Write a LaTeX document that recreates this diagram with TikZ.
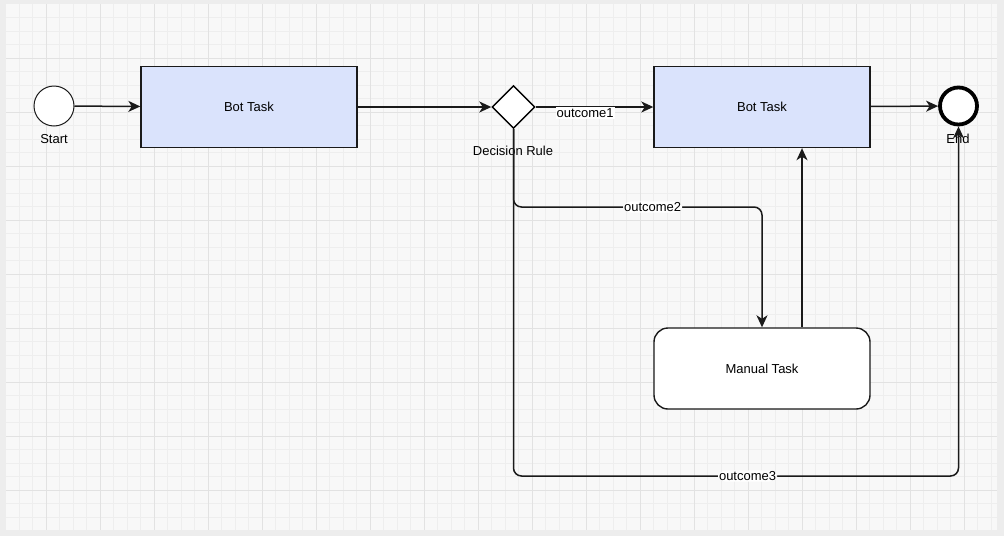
\documentclass[tikz,border=0pt]{standalone}
\usepackage{fontspec}
\setmainfont{Liberation Sans}
\usetikzlibrary{arrows.meta,shapes.geometric}
\definecolor{framegray}{HTML}{EDEDED}
\definecolor{gridbg}{HTML}{F8F8F8}
\definecolor{gridminor}{HTML}{EEEEEE}
\definecolor{gridmajor}{HTML}{E2E2E2}
\definecolor{botblue}{HTML}{DAE3FC}
\definecolor{inkgray}{HTML}{1A1A1A}
\newcommand{\taskw}{216pt}
\newcommand{\taskh}{81pt}
\newcommand{\lblfont}{\fontsize{13}{15}\selectfont}
\tikzset{
  bottask/.style={rectangle, draw=inkgray, fill=botblue, line width=1.4pt, minimum width=\taskw, minimum height=\taskh, font=\lblfont},
  manualtask/.style={rectangle, rounded corners=14pt, draw=inkgray, fill=white, line width=1.4pt, minimum width=\taskw, minimum height=\taskh, font=\lblfont},
  startev/.style={circle, draw=inkgray, fill=white, line width=1pt, minimum size=40pt, inner sep=0pt},
  endev/.style={circle, draw=black, fill=white, line width=3.8pt, minimum size=37pt, inner sep=0pt},
  gateway/.style={diamond, draw=black, fill=white, line width=1.4pt, minimum width=43pt, minimum height=43pt, inner sep=0pt},
  evlabel/.style={font=\lblfont, inner sep=1pt},
  outlbl/.style={font=\lblfont, fill=white, inner sep=1pt},
  flow/.style={draw=inkgray, line width=1.5pt, -{Stealth[length=12pt, width=11pt, inset=3.5pt]}}
}
\begin{document}
\begin{tikzpicture}[x=1pt, y=-1pt]
    % frame and grid
    \fill[framegray] (0,0) rectangle (1004,536);
    \fill[gridbg] (6,4) rectangle (997,530);
    \foreach \i in {-2,...,70} {
        \draw[gridminor, line width=0.8pt] ({46+13.5*\i},4) -- ({46+13.5*\i},530);
    }
    \foreach \j in {1,...,38} {
        \draw[gridminor, line width=0.8pt] (6,{4+13.5*\j}) -- (997,{4+13.5*\j});
    }
    \foreach \i in {0,...,17} {
        \draw[gridmajor, line width=0.9pt] ({46+54*\i},4) -- ({46+54*\i},530);
    }
    \foreach \j in {1,...,9} {
        \draw[gridmajor, line width=0.9pt] (6,{4+54*\j}) -- (997,{4+54*\j});
    }

    % events and tasks
    \node[startev] (start) at (54,106) {};
    \node[evlabel] (startlbl) at (54,139) {Start};
    \node[bottask] (bot1) at (249,107) {Bot Task};
    \node[gateway] (rule) at (513.5,107) {};
    \node[evlabel] (rulelbl) at (513,151) {Decision Rule};
    \node[bottask] (bot2) at (762,107) {Bot Task};
    \node[endev] (end) at (958.5,106) {};
    \node[evlabel] (endlbl) at (958,139) {End};
    \node[manualtask] (manual) at (762,368.5) {Manual Task};
    \coordinate (bend2) at (513.5,207);
    \coordinate (bend3) at (513.5,476);

    % connectors
    \draw[flow] (start) -- (bot1);
    \draw[flow] (bot1) -- (rule);
    \draw[flow] (rule) -- node[outlbl, pos=0.42, yshift=-6pt] {outcome1} (bot2);
    \draw[flow] (bot2) -- (end);
    \draw[flow, rounded corners=8pt] (rule.south) -- (bend2) -| node[outlbl, pos=0.28] {outcome2} (manual.north);
    \draw[flow, rounded corners=8pt] (rule.south) -- (bend3) -| node[outlbl, pos=0.263] {outcome3} (end.south);
    \draw[flow] ([xshift=40pt]manual.north) -- ([xshift=40pt]bot2.south);
\end{tikzpicture}
\end{document}
